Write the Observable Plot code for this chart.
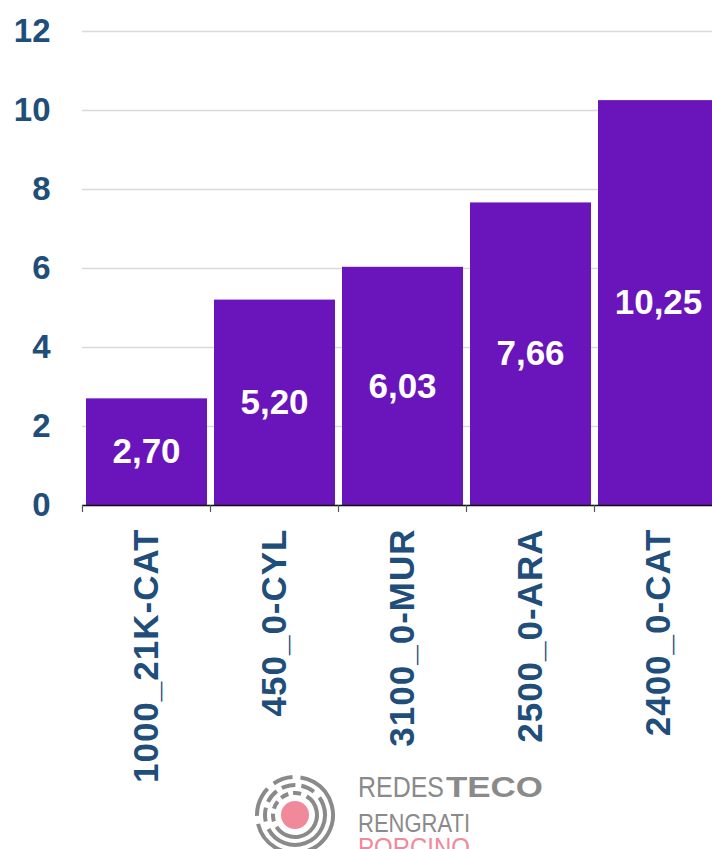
<!DOCTYPE html>
<html>
<head>
<meta charset="utf-8">
<script src="https://cdn.jsdelivr.net/npm/d3@7"></script>
<script src="https://cdn.jsdelivr.net/npm/@observablehq/plot@0.6"></script>
<style>
  html, body { margin: 0; padding: 0; background: #fff; overflow: hidden; }
  #page { position: relative; width: 712px; height: 849px; overflow: hidden; }
  #chart { position: absolute; left: 0; top: 0; width: 722px; }
  #chart svg { max-width: none !important; }
  #logo { position: absolute; left: 0; top: 0; }
</style>
</head>
<body>
<div id="page">
  <div id="chart"></div>
  <svg id="logo" width="712" height="849" viewBox="0 0 712 849">
    <g transform="translate(295,815)" fill="none" stroke="#8a8a8a" stroke-width="4">
      <circle r="38" stroke-dasharray="150 8 30 8 20 8" transform="rotate(-60)"></circle>
      <circle r="30" stroke-dasharray="90 8 14 6 14 6 14 6 14 8" transform="rotate(-20)"></circle>
      <circle r="22" stroke-dasharray="60 6 8 5 8 5 8 5 8 6" transform="rotate(-10)"></circle>
      <circle r="14" fill="#f0899a" stroke="none"></circle>
    </g>
    <text x="358" y="797" font-family="Liberation Sans, Arial, sans-serif" font-size="29" fill="#8a8a8a"><tspan textLength="86" lengthAdjust="spacingAndGlyphs">REDES</tspan><tspan x="446" font-weight="bold" textLength="97" lengthAdjust="spacingAndGlyphs">TECO</tspan></text>
    <text x="358" y="832" font-family="Liberation Sans, Arial, sans-serif" font-size="26" fill="#8a8a8a" textLength="112" lengthAdjust="spacingAndGlyphs">RENGRATI</text>
    <text x="358" y="856" font-family="Liberation Sans, Arial, sans-serif" font-size="26" fill="#f0899a" textLength="112" lengthAdjust="spacingAndGlyphs">PORCINO</text>
  </svg>
</div>
<script>
const categories = ["1000_21K-CAT", "450_0-CYL", "3100_0-MUR", "2500_0-ARA", "2400_0-CAT"];
const values = [2.70, 5.20, 6.03, 7.66, 10.25];
const valueLabels = ["2,70", "5,20", "6,03", "7,66", "10,25"];
const yTicks = [0, 2, 4, 6, 8, 10, 12];

const data = categories.map((c, i) => ({i, c, v: values[i], label: valueLabels[i]}));
const font = "Liberation Sans, Arial, sans-serif";
const blue = "#1f4e7a";

const chart = Plot.plot({
  width: 722,
  height: 849,
  marginLeft: 82,
  marginRight: 0,
  marginTop: 31,
  marginBottom: 344,
  style: {fontFamily: font, background: "transparent"},
  x: {type: "linear", domain: [0, categories.length], axis: null, label: null},
  y: {domain: [0, 12], axis: null, label: null},
  marks: [
    Plot.gridY(yTicks, {stroke: "#d9d9d9", strokeOpacity: 1, strokeWidth: 1.5}),
    Plot.rectY(data, {x1: "i", x2: d => d.i + 1, y: "v", fill: "#6a14bb", insetLeft: 4, insetRight: 3}),
    Plot.ruleY([0], {stroke: "#111", strokeWidth: 1.5}),
    Plot.axisX(d3.range(categories.length + 1), {tickSize: 7, tickFormat: () => "", label: null, stroke: "#555", strokeWidth: 1.2}),
    Plot.text(yTicks, {y: d => d, frameAnchor: "left", dx: -32, textAnchor: "end", text: d => String(d),
      fill: blue, fontSize: 33, fontWeight: "bold"}),
    Plot.text(data, {x: d => d.i + 0.5, y: d => d.v / 2, text: "label", fill: "white", fontSize: 35, fontWeight: "bold"}),
    Plot.text(data, {x: d => d.i + 0.5, y: 0, text: "c", rotate: -90, textAnchor: "end", dy: 23,
      fill: blue, fontSize: 35, fontWeight: "bold"})
  ]
});
const textGroups = chart.querySelectorAll('g[aria-label="text"]');
textGroups[textGroups.length - 1].style.letterSpacing = "1px";
document.getElementById("chart").appendChild(chart);
</script>
</body>
</html>
